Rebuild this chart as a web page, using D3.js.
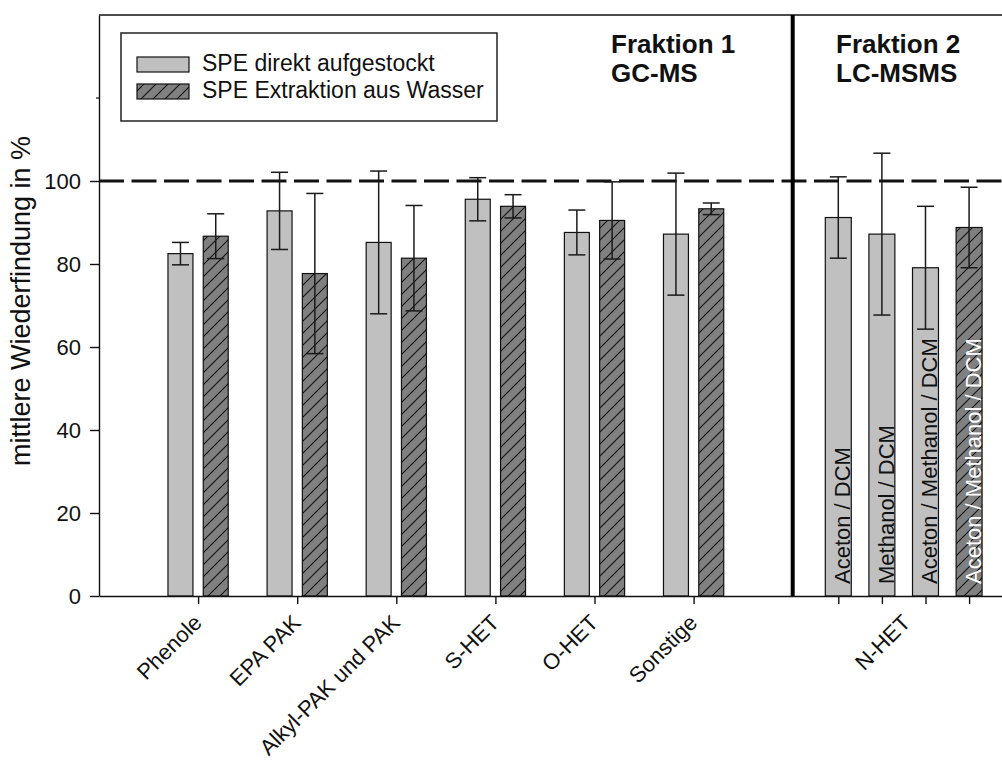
<!DOCTYPE html>
<html>
<head>
<meta charset="utf-8">
<script src="https://cdn.jsdelivr.net/npm/d3@7/dist/d3.min.js"></script>
<style>
    body { margin: 0; background: #fff; }
    text { font-family: "Liberation Sans", Arial, sans-serif; fill: #111; }
</style>
</head>
<body>
<div id="chart"></div>
<script>
// Fraktion 1 (GC-MS) categories
var categories = ["Phenole", "EPA PAK", "Alkyl-PAK und PAK", "S-HET", "O-HET", "Sonstige"];
var direkt = [82.5, 92.8, 85.2, 95.6, 87.6, 87.2];
var direktErr = [2.7, 9.3, 17.2, 5.2, 5.4, 14.7];
var wasser = [86.7, 77.7, 81.4, 93.9, 90.5, 93.3];
var wasserErr = [5.4, 19.3, 12.7, 2.8, 9.3, 1.4];

// Fraktion 2 (LC-MSMS), N-HET with different eluents
var nhetCategory = "N-HET";
var nhetLabels = ["Aceton / DCM", "Methanol / DCM", "Aceton / Methanol / DCM", "Aceton / Methanol / DCM"];
var nhetValues = [91.2, 87.2, 79.1, 88.8];
var nhetErr = [9.8, 19.5, 14.8, 9.7];
var nhetSeries = ["direkt", "direkt", "direkt", "wasser"];

var seriesNames = ["SPE direkt aufgestockt", "SPE Extraktion aus Wasser"];
var yTicks = [0, 20, 40, 60, 80, 100];
var refLine = 100;

var width = 1002,
    height = 760,
    plotLeft = 99,
    plotTop = 15,
    plotBottom = 596,
    step = 99.1;

var svg = d3.select("#chart")
    .append("svg")
    .attr("width", width)
    .attr("height", height);

// hatch pattern for the water extraction bars
svg.append("defs").append("pattern")
    .attr("id", "hatch")
    .attr("patternUnits", "userSpaceOnUse")
    .attr("width", 12)
    .attr("height", 12)
    .call(function (p) {
        p.append("rect").attr("width", 12).attr("height", 12).attr("fill", "#808080");
        p.append("path")
            .attr("d", "M-3,3 L3,-3 M0,12 L12,0 M9,15 L15,9")
            .attr("stroke", "#111")
            .attr("stroke-width", 1.1);
    });

var y = d3.scaleLinear()
    .domain([0, 140])
    .range([plotBottom, plotTop]);

// positions: one unit per category, divider at 7
var x = d3.scaleLinear()
    .domain([0, 9.2])
    .range([plotLeft, plotLeft + 9.2 * step]);

var catPos = categories.map(function (c, i) { return i + 1; });
var nhetCenter = 8.12, nhetStep = 0.44;
var nhetPos = nhetValues.map(function (v, i) {
    return nhetCenter + (i - (nhetValues.length - 1) / 2) * nhetStep;
});

var barW = 0.252, offs = 0.178;

// build bar table
var bars = [];
categories.forEach(function (c, i) {
    bars.push({ pos: catPos[i] - offs, value: direkt[i], err: direktErr[i], series: "direkt", w: barW });
    bars.push({ pos: catPos[i] + offs, value: wasser[i], err: wasserErr[i], series: "wasser", w: barW });
});
nhetValues.forEach(function (v, i) {
    bars.push({ pos: nhetPos[i], value: v, err: nhetErr[i], series: nhetSeries[i], w: 0.262, label: nhetLabels[i] });
});

function fillFor(s) {
    return s == "wasser" ? "url(#hatch)" : "#c0c0c0";
}

// reference line at 100 %
svg.append("line")
    .attr("x1", plotLeft)
    .attr("x2", width)
    .attr("y1", y(refLine))
    .attr("y2", y(refLine))
    .style("stroke", "#111")
    .style("stroke-width", 2.8)
    .style("stroke-dasharray", "25,7.5");

// bars
svg.selectAll(".bar")
    .data(bars)
    .enter()
    .append("rect")
    .attr("class", "bar")
    .attr("x", function (d) { return x(d.pos - d.w / 2); })
    .attr("y", function (d) { return y(d.value); })
    .attr("width", function (d) { return x(d.w) - x(0); })
    .attr("height", function (d) { return y(0) - y(d.value); })
    .attr("fill", function (d) { return fillFor(d.series); })
    .attr("stroke", "#111")
    .attr("stroke-width", 1.2);

// labels inside N-HET bars
svg.selectAll(".inlabel")
    .data(bars.filter(function (d) { return d.label; }))
    .enter()
    .append("text")
    .attr("class", "inlabel")
    .attr("transform", function (d) {
        return "translate(" + (x(d.pos) + 12) + "," + (plotBottom - 12) + ") rotate(-90)";
    })
    .style("font-size", "22px")
    .style("fill", function (d) { return d.series == "wasser" ? "#fff" : "#111"; })
    .text(function (d) { return d.label; });

// error bars
var capHalf = 8.5;
var eb = svg.selectAll(".err")
    .data(bars)
    .enter()
    .append("g")
    .attr("class", "err")
    .style("stroke", "#1a1a1a")
    .style("stroke-width", 1.5);
eb.append("line")
    .attr("x1", function (d) { return x(d.pos); })
    .attr("x2", function (d) { return x(d.pos); })
    .attr("y1", function (d) { return y(d.value + d.err); })
    .attr("y2", function (d) { return y(d.value - d.err); });
eb.append("line")
    .attr("x1", function (d) { return x(d.pos) - capHalf; })
    .attr("x2", function (d) { return x(d.pos) + capHalf; })
    .attr("y1", function (d) { return y(d.value + d.err); })
    .attr("y2", function (d) { return y(d.value + d.err); });
eb.append("line")
    .attr("x1", function (d) { return x(d.pos) - capHalf; })
    .attr("x2", function (d) { return x(d.pos) + capHalf; })
    .attr("y1", function (d) { return y(d.value - d.err); })
    .attr("y2", function (d) { return y(d.value - d.err); });

// y axis
var yAxis = d3.axisLeft(y)
    .tickValues(yTicks)
    .tickSize(9)
    .tickSizeOuter(0)
    .tickPadding(9);
var gy = svg.append("g")
    .attr("transform", "translate(" + plotLeft + ",0)")
    .call(yAxis);
gy.selectAll("text").style("font-size", "22px").style("font-family", "'Liberation Sans', Arial, sans-serif").style("fill", "#111");
gy.selectAll("line, path").style("stroke", "#111").style("stroke-width", 1.4);

// small unlabelled tick at 120
svg.append("line")
    .attr("x1", plotLeft - 3)
    .attr("x2", plotLeft)
    .attr("y1", y(120))
    .attr("y2", y(120))
    .style("stroke", "#111")
    .style("stroke-width", 1.2);

// x axis
var xAxis = d3.axisBottom(x)
    .tickValues(catPos.concat(nhetPos))
    .tickFormat("")
    .tickSize(8)
    .tickSizeOuter(0);
var gx = svg.append("g")
    .attr("transform", "translate(0," + plotBottom + ")")
    .call(xAxis);
gx.selectAll("line, path").style("stroke", "#111").style("stroke-width", 1.4);

// top frame
svg.append("line")
    .attr("x1", plotLeft)
    .attr("x2", width)
    .attr("y1", plotTop)
    .attr("y2", plotTop)
    .style("stroke", "#111")
    .style("stroke-width", 1.4);

// divider between the two fractions
svg.append("line")
    .attr("x1", x(7))
    .attr("x2", x(7))
    .attr("y1", plotTop)
    .attr("y2", plotBottom)
    .style("stroke", "#000")
    .style("stroke-width", 4);

// category labels
svg.selectAll(".xlabel")
    .data(categories)
    .enter()
    .append("text")
    .attr("class", "xlabel")
    .attr("transform", function (d, i) {
        return "translate(" + (x(catPos[i]) + 5) + "," + (plotBottom + 28) + ") rotate(-45)";
    })
    .style("font-size", "22px")
    .style("text-anchor", "end")
    .text(function (d) { return d; });

svg.append("text")
    .attr("transform", "translate(" + (x(nhetCenter) + 8) + "," + (plotBottom + 28) + ") rotate(-45)")
    .style("font-size", "22px")
    .style("text-anchor", "end")
    .text(nhetCategory);

// y axis title
svg.append("text")
    .attr("transform", "translate(30," + 301 + ") rotate(-90)")
    .style("font-size", "27px")
    .style("text-anchor", "middle")
    .text("mittlere Wiederfindung in %");

// fraction titles
var titles = [["Fraktion 1", "GC-MS", 611], ["Fraktion 2", "LC-MSMS", 836]];
titles.forEach(function (t) {
    svg.append("text").attr("x", t[2]).attr("y", 53)
        .style("font-size", "26px").style("font-weight", "bold").text(t[0]);
    svg.append("text").attr("x", t[2]).attr("y", 82)
        .style("font-size", "26px").style("font-weight", "bold").text(t[1]);
});

// legend
var legend = svg.append("g");
legend.append("rect")
    .attr("x", 121)
    .attr("y", 33)
    .attr("width", 376)
    .attr("height", 88)
    .attr("fill", "#fff")
    .attr("stroke", "#222")
    .attr("stroke-width", 1.5);
["direkt", "wasser"].forEach(function (s, i) {
    legend.append("rect")
        .attr("x", 137)
        .attr("y", 57 + i * 27)
        .attr("width", 52)
        .attr("height", 15)
        .attr("fill", fillFor(s))
        .attr("stroke", "#111")
        .attr("stroke-width", 1.2);
    legend.append("text")
        .attr("x", 202)
        .attr("y", 71 + i * 27)
        .style("font-size", "23px")
        .text(seriesNames[i]);
});
</script>
</body>
</html>
